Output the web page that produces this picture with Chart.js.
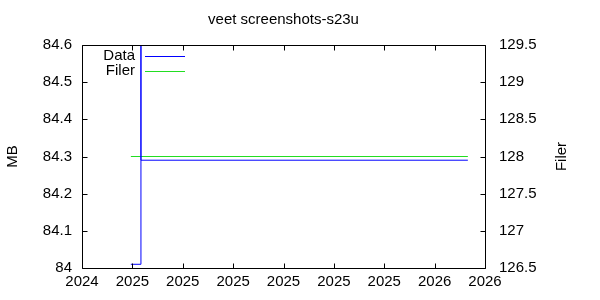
<!DOCTYPE html>
<html>
<head>
<meta charset="utf-8">
<script src="https://cdn.jsdelivr.net/npm/chart.js@4/dist/chart.umd.min.js"></script>
<style>
    body { margin: 0; background: #fff; }
</style>
</head>
<body>
<canvas id="grafico" width="600" height="300"></canvas>
<script>
// valores (x em unidades de tick do eixo de tempo)
var tempoX = [0.97, 1.17, 1.17, 7.66];
var valoresMB = [84.01, 85.0, 84.29, 84.29];
var valoresFiler = [128, 128, 128, 128];
var rotulosX = ['2024', '2025', '2025', '2025', '2025', '2025', '2025', '2026', '2026'];

var tituloGrafico = 'veet screenshots-s23u';
var nomesSeries = ['Data', 'Filer'];
var coresSeries = ['#0000ff', '#22dd22'];

var fonte = '"Liberation Sans", Arial, sans-serif';
Chart.defaults.color = '#000';
Chart.defaults.font.family = fonte;
Chart.defaults.font.size = 15;

function montaPontos(ys) {
    var pontos = [];
    for (var i = 0; i < tempoX.length; i++) {
        pontos.push({ x: tempoX[i], y: ys[i] });
    }
    return pontos;
}

// rotulo sem zero sobrando (84 e nao 84.0)
function formataNumero(v) {
    return String(parseFloat(Number(v).toFixed(2)));
}

// moldura, ticks para dentro, titulo e legenda no estilo do gnuplot
const molduraPlugin = {
    id: 'moldura',
    afterDatasetsDraw(chart) {
        const ctx = chart.ctx;
        const a = chart.chartArea;
        const L = Math.round(a.left) + 0.5, R = Math.round(a.right) + 0.5;
        const T = Math.round(a.top) + 0.5, B = Math.round(a.bottom) + 0.5;

        ctx.save();
        ctx.strokeStyle = '#000';
        ctx.lineWidth = 1;
        ctx.beginPath();
        ctx.rect(L, T, R - L, B - T);

        const sx = chart.scales.x;
        sx.ticks.forEach(t => {
            const px = Math.round(sx.getPixelForValue(t.value)) + 0.5;
            ctx.moveTo(px, B); ctx.lineTo(px, B - 5);
            ctx.moveTo(px, T); ctx.lineTo(px, T + 5);
        });
        const sy = chart.scales.y;
        sy.ticks.forEach(t => {
            const py = Math.round(sy.getPixelForValue(t.value)) + 0.5;
            ctx.moveTo(L, py); ctx.lineTo(L + 5, py);
        });
        const sy2 = chart.scales.y2;
        sy2.ticks.forEach(t => {
            const py = Math.round(sy2.getPixelForValue(t.value)) + 0.5;
            ctx.moveTo(R, py); ctx.lineTo(R - 5, py);
        });
        ctx.stroke();

        ctx.fillStyle = '#000';
        ctx.font = '15px ' + fonte;

        // titulo centralizado na area do grafico
        ctx.textAlign = 'center';
        ctx.textBaseline = 'middle';
        ctx.fillText(tituloGrafico, (a.left + a.right) / 2, 20);

        // titulo do eixo da direita
        ctx.save();
        ctx.translate(562, (a.top + a.bottom) / 2);
        ctx.rotate(-Math.PI / 2);
        ctx.fillText('Filer', 0, 0);
        ctx.restore();

        // legenda
        ctx.textAlign = 'right';
        for (var i = 0; i < nomesSeries.length; i++) {
            var ly = 56 + i * 15;
            ctx.fillText(nomesSeries[i], 135, ly);
            ctx.beginPath();
            ctx.strokeStyle = coresSeries[i];
            ctx.moveTo(145, ly + 0.5);
            ctx.lineTo(185, ly + 0.5);
            ctx.stroke();
        }
        ctx.restore();
    }
};

const config = {
    type: 'line',
    data: {
        datasets: [{
            label: nomesSeries[0],
            data: montaPontos(valoresMB),
            borderColor: coresSeries[0],
            backgroundColor: coresSeries[0],
            borderWidth: 1,
            pointRadius: 0,
            stepped: 'before',
            yAxisID: 'y'
        }, {
            label: nomesSeries[1],
            data: montaPontos(valoresFiler),
            borderColor: coresSeries[1],
            backgroundColor: coresSeries[1],
            borderWidth: 1,
            pointRadius: 0,
            yAxisID: 'y2'
        }]
    },
    options: {
        responsive: false,
        animation: false,
        devicePixelRatio: 1,
        layout: { padding: { top: 45 } },
        plugins: {
            legend: { display: false },
            title: { display: false },
            tooltip: { enabled: false }
        },
        scales: {
            x: {
                type: 'linear',
                min: 0,
                max: 8,
                grid: { display: false, drawTicks: false },
                border: { display: false },
                ticks: {
                    stepSize: 1,
                    padding: 5,
                    maxRotation: 0,
                    callback: function (v) { return rotulosX[v]; }
                },
                afterFit: function (s) { s.height = 32; }
            },
            y: {
                position: 'left',
                min: 84,
                max: 84.6,
                grid: { display: false, drawTicks: false },
                border: { display: false },
                ticks: { stepSize: 0.1, padding: 10, callback: formataNumero },
                title: { display: true, text: 'MB', font: { size: 15 } },
                afterFit: function (s) { s.width = 82; }
            },
            y2: {
                position: 'right',
                min: 126.5,
                max: 129.5,
                grid: { display: false, drawTicks: false },
                border: { display: false },
                ticks: { stepSize: 0.5, padding: 14, callback: formataNumero },
                afterFit: function (s) { s.width = 115; }
            }
        }
    },
    plugins: [molduraPlugin]
};

const meuGrafico = new Chart(document.getElementById('grafico'), config);
</script>
</body>
</html>
